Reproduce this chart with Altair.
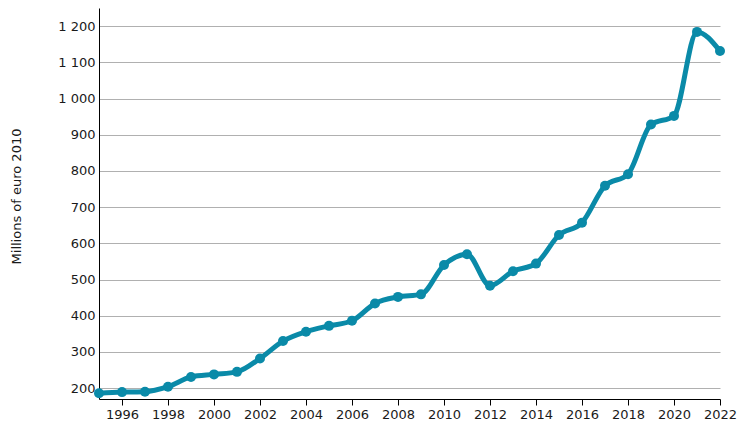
import altair as alt
import pandas as pd

years = list(range(1995, 2023))
values = [186, 189, 190, 204, 231, 238, 245, 282, 330, 356, 372, 386, 434, 452, 459,
          540, 570, 483, 523, 544, 623, 657, 759, 791, 928, 952, 1184, 1131]
y_ticks = [200, 300, 400, 500, 600, 700, 800, 900, 1000, 1100, 1200]
x_ticks = list(range(1996, 2023, 2))

df = pd.DataFrame({"year": years, "value": values})

color = "#0a8aa8"

x = alt.X("year:Q", scale=alt.Scale(domain=[1995, 2022], nice=False, zero=False),
          axis=alt.Axis(values=x_ticks, format="d", title=None, grid=False,
                        labelOverlap=False, labelFlush=False,
                        labelFont="DejaVu Sans", labelFontSize=13, labelColor="#1a1a1a",
                        domainColor="#000", tickColor="#000", tickSize=6, labelPadding=3))
y = alt.Y("value:Q", scale=alt.Scale(domain=[170, 1250], nice=False, zero=False),
          axis=alt.Axis(values=y_ticks, title="Millions of euro 2010",
                        labelOverlap=False, labelFlush=False,
                        labelExpr="replace(format(datum.value, ','), ',', ' ')",
                        labelFont="DejaVu Sans", labelFontSize=13, labelColor="#1a1a1a",
                        titleFont="DejaVu Sans", titleFontSize=13, titleFontWeight="normal",
                        titleColor="#1a1a1a", titleX=-83, titleY=188, titleAngle=270,
                        titleAlign="center", titleBaseline="middle",
                        gridColor="#b0b0b0", gridWidth=1, domainColor="#000",
                        ticks=False, labelPadding=4))

base = alt.Chart(df).encode(x=x, y=y)
line = base.mark_line(color=color, strokeWidth=5, interpolate="monotone")
pts = base.mark_point(color=color, filled=True, size=100, opacity=1)

chart = (line + pts).properties(
    width=621, height=391,
    autosize=alt.AutoSizeParams(type="none"),
    padding={"left": 91, "top": 0, "right": 20, "bottom": 24},
).configure_view(stroke=None)

chart.save("out.html", embed_options={"renderer": "svg", "actions": False})
